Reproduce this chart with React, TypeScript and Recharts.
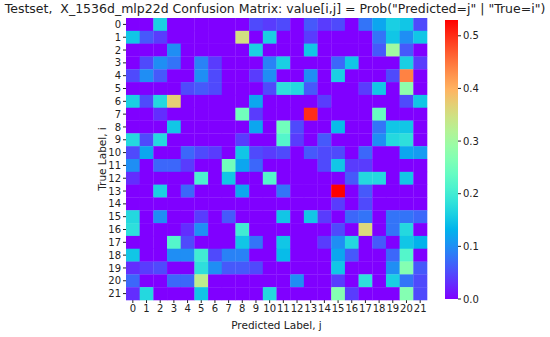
import { ScatterChart, Scatter, XAxis, YAxis, ReferenceLine, BarChart, Bar } from "recharts";

const labels = Array.from({ length: 22 }, (_, k) => k);
const cbarTicks = [0, 0.1, 0.2, 0.3, 0.4, 0.5];
const vmax = 0.53;

// rows = true label i, columns = predicted label j
const matrix: number[][] = [
  [0, 0, 0.16, 0, 0, 0, 0, 0, 0, 0.05, 0.04, 0.05, 0, 0.06, 0.04, 0.05, 0, 0.08, 0.12, 0.16, 0.15, 0.05],
  [0.15, 0.06, 0.04, 0, 0, 0, 0, 0, 0.35, 0, 0.16, 0, 0, 0.04, 0, 0, 0, 0, 0.08, 0.15, 0.1, 0.15],
  [0, 0, 0, 0.1, 0, 0, 0, 0, 0, 0.16, 0, 0, 0, 0.15, 0, 0, 0, 0, 0.06, 0.3, 0.06, 0],
  [0, 0.05, 0.1, 0.08, 0, 0.09, 0.04, 0, 0, 0, 0.09, 0.16, 0, 0, 0, 0.07, 0.15, 0, 0, 0, 0.16, 0.04],
  [0.05, 0.1, 0.06, 0, 0, 0.1, 0.05, 0, 0, 0.04, 0.1, 0, 0, 0.1, 0, 0.16, 0, 0, 0, 0.05, 0.44, 0],
  [0, 0, 0, 0, 0.05, 0.06, 0.05, 0, 0, 0, 0.05, 0.18, 0.17, 0.06, 0, 0, 0, 0.04, 0.15, 0, 0.28, 0],
  [0.16, 0.05, 0.17, 0.37, 0, 0, 0, 0, 0, 0.12, 0, 0, 0, 0, 0.04, 0, 0, 0, 0, 0, 0.05, 0.15],
  [0, 0, 0.03, 0, 0, 0, 0, 0, 0.25, 0.04, 0, 0, 0, 0.5, 0, 0, 0, 0, 0.24, 0, 0, 0],
  [0, 0, 0, 0.15, 0, 0, 0, 0, 0, 0.12, 0, 0.25, 0.05, 0, 0, 0.14, 0, 0, 0.08, 0.15, 0.15, 0],
  [0.17, 0.05, 0.17, 0, 0, 0, 0, 0, 0.04, 0, 0, 0.22, 0.04, 0, 0.06, 0, 0, 0, 0.1, 0.17, 0.18, 0],
  [0.05, 0.12, 0, 0, 0.07, 0.05, 0.04, 0, 0.15, 0.05, 0.04, 0.05, 0, 0.06, 0.05, 0.05, 0, 0.07, 0, 0, 0.12, 0.11],
  [0.1, 0, 0.07, 0.07, 0.04, 0, 0, 0.25, 0.12, 0.07, 0, 0, 0, 0, 0.05, 0.15, 0.04, 0.04, 0, 0, 0, 0],
  [0.03, 0, 0, 0, 0, 0.21, 0, 0.15, 0, 0, 0.22, 0, 0, 0, 0, 0, 0.06, 0.17, 0.17, 0, 0.15, 0],
  [0, 0, 0.16, 0, 0.07, 0, 0, 0, 0.12, 0, 0, 0.08, 0, 0, 0, 0.53, 0, 0.06, 0, 0, 0, 0],
  [0, 0, 0, 0, 0, 0, 0, 0, 0, 0, 0, 0, 0, 0, 0, 0.04, 0, 0.05, 0, 0, 0, 0],
  [0.17, 0, 0.1, 0, 0, 0.04, 0, 0.06, 0, 0, 0, 0.15, 0, 0.15, 0.04, 0, 0.07, 0.08, 0, 0.08, 0.08, 0.07],
  [0.18, 0, 0, 0, 0.03, 0.1, 0, 0, 0.2, 0, 0, 0, 0, 0, 0, 0.05, 0, 0.36, 0, 0.08, 0.17, 0],
  [0, 0, 0, 0.22, 0.05, 0, 0, 0, 0.15, 0.08, 0, 0.15, 0, 0, 0.04, 0.1, 0.17, 0, 0.06, 0, 0.15, 0.13],
  [0.15, 0, 0, 0.1, 0.1, 0.2, 0.05, 0.09, 0.09, 0, 0, 0.14, 0, 0, 0, 0.12, 0.06, 0, 0, 0.07, 0.22, 0],
  [0.03, 0.04, 0.05, 0, 0, 0.18, 0.1, 0.06, 0.06, 0.05, 0, 0, 0, 0, 0, 0.15, 0, 0, 0, 0.1, 0.27, 0.06],
  [0.07, 0, 0, 0.07, 0.07, 0.33, 0, 0, 0, 0, 0, 0, 0.1, 0, 0, 0.04, 0, 0.18, 0, 0.16, 0.08, 0.05],
  [0.03, 0.17, 0, 0, 0, 0.15, 0, 0, 0, 0, 0.17, 0, 0, 0, 0, 0.27, 0.04, 0, 0, 0, 0.27, 0.05],
];

const cells = matrix.flatMap((row, i) => row.map((v, j) => ({ i, j, v })));

const W = 550;
const H = 337;
const PLOT_LEFT = 126;
const PLOT_RIGHT = 427;
const PLOT_TOP = 18;
const PLOT_BOTTOM = 300;
const CELL_W = (PLOT_RIGHT - PLOT_LEFT) / labels.length;
const CELL_H = (PLOT_BOTTOM - PLOT_TOP) / labels.length;

function rainbow(t: number) {
  const c = (x: number) => Math.round(255 * Math.max(0, Math.min(1, x)));
  const r = c(Math.abs(2 * t - 0.5));
  const g = c(Math.sin(Math.PI * t));
  const b = c(Math.cos((Math.PI * t) / 2));
  return `rgb(${r},${g},${b})`;
}

const HeatCell = (props: any) => {
  const { cx, cy, payload } = props;
  if (cx == null || cy == null) return null;
  return (
    <rect
      x={cx - CELL_W / 2}
      y={cy - CELL_H / 2}
      width={CELL_W + 0.3}
      height={CELL_H + 0.3}
      fill={rainbow(payload.v / vmax)}
    />
  );
};

const tickStyle = { fontSize: 10, fill: "#222" };
const gradStops = Array.from({ length: 21 }, (_, k) => k / 20);

export default function App() {
  return (
    <div
      style={{
        position: "absolute",
        left: 0,
        top: 0,
        width: W,
        height: H,
        background: "#fff",
        fontFamily: "DejaVu Sans, sans-serif",
      }}
    >
      <div
        style={{
          position: "absolute",
          left: 0,
          top: 1,
          width: W,
          textAlign: "center",
          fontSize: 12.5,
          color: "#222",
          whiteSpace: "pre",
        }}
      >
        {'Testset,  X_1536d_mlp22d Confusion Matrix: value[i,j] = Prob("Predicted=j" | "True=i")'}
      </div>
      <div style={{ position: "absolute", left: 0, top: 0 }}>
        <ScatterChart
          width={W}
          height={H}
          margin={{ top: PLOT_TOP, right: W - PLOT_RIGHT, bottom: 0, left: 0 }}
        >
          <XAxis
            type="number"
            dataKey="j"
            domain={[-0.5, 21.5]}
            ticks={labels}
            interval={0}
            height={H - PLOT_BOTTOM}
            axisLine={false}
            tickSize={3}
            tick={tickStyle}
            stroke="#222"
            label={{ value: "Predicted Label, j", position: "insideBottom", offset: 8, fontSize: 10.5, fill: "#222" }}
          />
          <YAxis
            type="number"
            dataKey="i"
            domain={[-0.5, 21.5]}
            reversed
            ticks={labels}
            interval={0}
            width={PLOT_LEFT}
            axisLine={false}
            tickSize={3}
            tick={tickStyle}
            stroke="#222"
            label={{
              value: "True Label, i",
              content: ({ viewBox }: any) => (
                <text
                  x={viewBox.x + 106}
                  y={viewBox.y + viewBox.height / 2}
                  transform={`rotate(-90, ${viewBox.x + 106}, ${viewBox.y + viewBox.height / 2})`}
                  textAnchor="middle"
                  fontSize={10.5}
                  fill="#222"
                >
                  True Label, i
                </text>
              ),
            }}
          />
          <Scatter data={cells} shape={HeatCell} isAnimationActive={false} />
          {labels.map((k) => (
            <ReferenceLine key={`vx${k}`} x={k} stroke="rgba(255,255,255,0.35)" strokeWidth={1} />
          ))}
          {labels.map((k) => (
            <ReferenceLine key={`hy${k}`} y={k} stroke="rgba(255,255,255,0.35)" strokeWidth={1} />
          ))}
        </ScatterChart>
      </div>
      <div style={{ position: "absolute", left: 445, top: 15 }}>
        <BarChart
          width={55}
          height={289}
          data={[{ name: "cbar", v: vmax }]}
          margin={{ top: 5, right: 0, bottom: 5, left: 0 }}
          barCategoryGap={0}
        >
          <defs>
            <linearGradient id="rainbowGrad" x1="0" y1="1" x2="0" y2="0">
              {gradStops.map((t) => (
                <stop key={t} offset={`${t * 100}%`} stopColor={rainbow(t)} />
              ))}
            </linearGradient>
          </defs>
          <XAxis dataKey="name" hide />
          <YAxis
            orientation="right"
            domain={[0, vmax]}
            ticks={cbarTicks}
            interval={0}
            width={42}
            axisLine={false}
            tickSize={3}
            stroke="#222"
            tick={tickStyle}
            tickFormatter={(t: number) => t.toFixed(1)}
          />
          <Bar dataKey="v" fill="url(#rainbowGrad)" isAnimationActive={false} />
        </BarChart>
      </div>
    </div>
  );
}
